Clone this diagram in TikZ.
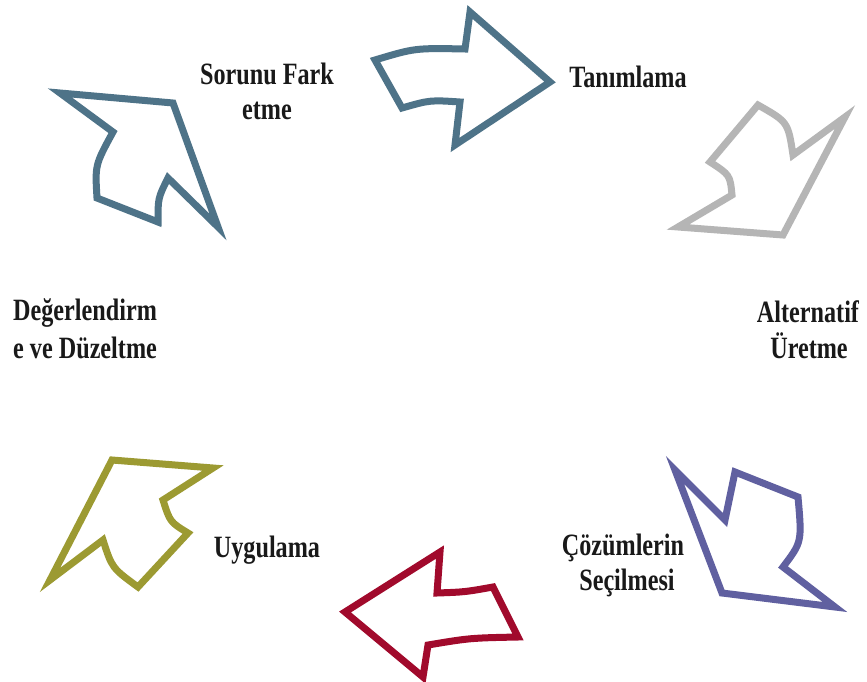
\documentclass[tikz,border=0pt]{standalone}
\usepackage{fontspec}
\setmainfont{Liberation Serif}[FakeStretch=0.78]
\definecolor{slate}{HTML}{4E7388}
\definecolor{ash}{HTML}{B5B5B5}
\definecolor{iris}{HTML}{6060A0}
\definecolor{crimson}{HTML}{A10A2C}
\definecolor{olive}{HTML}{9C9A32}
\tikzset{
  cyclearrow/.style={draw=#1, line width=7pt, line join=miter, fill=white},
  label/.style={font=\fontsize{31}{36}\selectfont\bfseries, inner sep=0pt, anchor=base, text=black!90}
}
\begin{document}
\begin{tikzpicture}[x=1pt,y=-1pt]
\useasboundingbox (0,0) rectangle (867,682);

% stage labels
\node[label] (s1a) at (267,85) {Sorunu Fark};
\node[label] (s1b) at (267,120) {etme};
\node[label] (s2) at (628,88) {Tanımlama};
\node[label] (s3a) at (808,322) {Alternatif};
\node[label] (s3b) at (809,358) {Üretme};
\node[label] (s4a) at (623,555) {Çözümlerin};
\node[label] (s4b) at (627,590) {Seçilmesi};
\node[label] (s5) at (267,557) {Uygulama};
\node[label, anchor=base west] (s6a) at (13,320) {Değerlendirm};
\node[label, anchor=base west] (s6b) at (13,358) {e ve Düzeltme};

% arrow: Sorunu Fark -> Tanımlama
\draw[cyclearrow=slate] (375,60) .. controls (415,48) .. (465,49) -- (470,12) -- (550,82)
  -- (455,145) -- (460,102) .. controls (430,100) .. (402,108) -- cycle;

% arrow: Tanımlama -> Alternatif
\draw[cyclearrow=ash] (758,105) .. controls (788,122) .. (793,155) -- (845,117)
  -- (783,235) -- (678,227) -- (732,195) .. controls (730,175) .. (710,162) -- cycle;

% arrow: Alternatif -> Çözümlerin
\draw[cyclearrow=iris] (735,472) -- (798,497) .. controls (802,542) .. (783,567)
  -- (835,607) -- (722,593) -- (675,470) -- (725,520) -- cycle;

% arrow: Çözümlerin -> Uygulama
\draw[cyclearrow=crimson] (493,587) -- (518,637) .. controls (470,638) .. (428,645)
  -- (423,677) -- (345,612) -- (440,552) -- (437,593) .. controls (465,592) .. cycle;

% arrow: Uygulama -> Değerlendirme
\draw[cyclearrow=olive] (188,533) -- (138,587) .. controls (112,568) .. (103,540)
  -- (50,580) -- (112,460) -- (213,468) -- (163,500) .. controls (170,522) .. cycle;

% arrow: Değerlendirme -> Sorunu Fark
\draw[cyclearrow=slate] (158,222) -- (97,198) .. controls (95,165) .. (113,132)
  -- (60,93) -- (173,103) -- (218,227) -- (168,178) .. controls (158,198) .. cycle;
\end{tikzpicture}
\end{document}
